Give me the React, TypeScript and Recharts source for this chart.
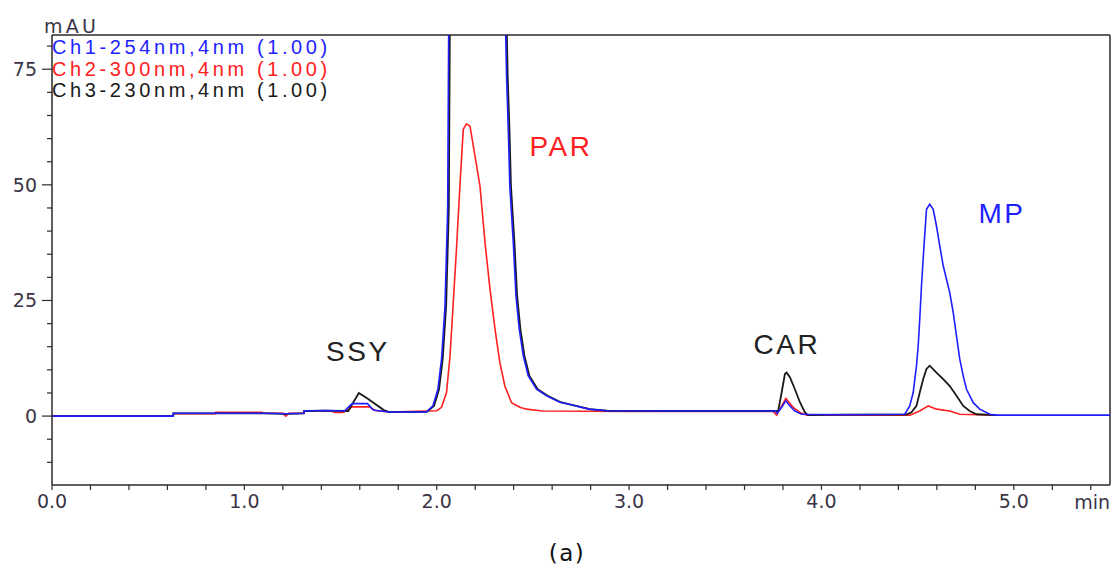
import React from 'react';
import { LineChart, Line, XAxis, YAxis, ReferenceLine, ReferenceDot, Legend } from 'recharts';

// ---- channel names / colours ----
const channelNames = ['Ch1-254nm,4nm (1.00)', 'Ch2-300nm,4nm (1.00)', 'Ch3-230nm,4nm (1.00)'];
const channelColors = ['#1f1fff', '#ff2020', '#1a1a1a'];

// ---- Ch1 254 nm (blue): [time min, mAU] ----
const ch1Points: [number, number][] = [
  [0, 0], [0.63, 0], [0.631, 0.6], [0.85, 0.6], [1.1, 0.6], [1.22, 0.5], [1.31, 0.6], [1.311, 1.1],
  [1.42, 1.2], [1.52, 1.1], [1.56, 2.7], [1.64, 2.7], [1.67, 1.3], [1.75, 0.9], [1.948, 0.9],
  [1.98, 2.2], [2.006, 5.8], [2.025, 12.3], [2.043, 23.8], [2.057, 45], [2.063, 90], [2.08, 130],
  [2.15, 200], [2.25, 180], [2.34, 120], [2.355, 90], [2.363, 73.5], [2.372, 62], [2.38, 49.7],
  [2.398, 37.5], [2.412, 26], [2.429, 18.8], [2.45, 13], [2.476, 8.7], [2.519, 5.8], [2.571, 4.4],
  [2.64, 3.0], [2.682, 2.6], [2.791, 1.5], [2.885, 1.15], [3.2, 1.1], [3.5, 1.1], [3.758, 1.1],
  [3.77, 0.6], [3.793, 1.9], [3.815, 3.3], [3.836, 2.2], [3.862, 1.1], [3.897, 0.4], [4.1, 0.3],
  [4.433, 0.4], [4.459, 2.2], [4.477, 5.1], [4.494, 10.9], [4.503, 15.2], [4.511, 21], [4.52, 28.2],
  [4.532, 36.1], [4.546, 44.7], [4.563, 45.8], [4.581, 44.7], [4.598, 41.1], [4.615, 36.8],
  [4.633, 32.5], [4.65, 29.6], [4.667, 26.7], [4.685, 22.4], [4.702, 17.3], [4.719, 12.3],
  [4.737, 8.7], [4.754, 5.8], [4.789, 2.9], [4.823, 1.5], [4.875, 0.4], [4.91, 0.2], [5.2, 0.2], [5.5, 0.2],
];

// ---- Ch2 300 nm (red) ----
const ch2Points: [number, number][] = [
  [0, 0], [0.63, 0], [0.631, 0.5], [0.85, 0.5], [0.851, 0.8], [1.09, 0.8], [1.1, 0.6], [1.2, 0.6],
  [1.215, 0], [1.23, 0.6], [1.31, 0.6], [1.311, 1.1], [1.45, 1.1], [1.47, 0.8], [1.51, 0.8], [1.53, 1.1],
  [1.56, 2.0], [1.65, 2.0], [1.68, 1.2], [1.75, 0.9], [2.0, 1.15], [2.025, 1.9], [2.051, 5.1],
  [2.069, 13], [2.086, 24.6], [2.103, 36.4], [2.121, 50.1], [2.138, 62], [2.155, 63.2], [2.173, 62.7],
  [2.199, 56.2], [2.225, 49.7], [2.251, 37.5], [2.277, 27.4], [2.303, 18.8], [2.328, 11.6],
  [2.354, 6.5], [2.389, 2.9], [2.432, 1.9], [2.467, 1.5], [2.55, 1.1], [3.0, 1.0], [3.749, 1.0],
  [3.767, 0.2], [3.815, 3.8], [3.853, 1.9], [3.888, 0.8], [3.923, 0.2], [4.2, 0.2], [4.459, 0.2],
  [4.511, 1.1], [4.555, 2.2], [4.598, 1.5], [4.667, 1.1], [4.719, 0.4], [4.91, 0.2],
];

// ---- Ch3 230 nm (black) ----
const ch3Points: [number, number][] = [
  [0, 0], [0.63, 0], [0.631, 0.6], [0.85, 0.6], [1.1, 0.6], [1.22, 0.5], [1.31, 0.6], [1.311, 1.1],
  [1.42, 1.2], [1.54, 1.1], [1.595, 5.0], [1.64, 3.8], [1.725, 1.3], [1.75, 0.9], [1.948, 0.9],
  [1.986, 2.2], [2.012, 5.8], [2.031, 12.3], [2.049, 23.8], [2.063, 45], [2.069, 90], [2.086, 130],
  [2.15, 200], [2.25, 180], [2.34, 120], [2.361, 90], [2.369, 73.5], [2.378, 62], [2.386, 49.7],
  [2.404, 37.5], [2.418, 26], [2.435, 18.8], [2.456, 13], [2.482, 8.7], [2.525, 5.8], [2.577, 4.4],
  [2.645, 3.0], [2.686, 2.6], [2.795, 1.5], [2.885, 1.15], [3.2, 1.1], [3.5, 1.1], [3.775, 1.1],
  [3.793, 5.1], [3.81, 9.1], [3.819, 9.4], [3.836, 8.4], [3.862, 5.8], [3.888, 3.0], [3.914, 0.8],
  [3.931, 0.2], [4.1, 0.3], [4.44, 0.3], [4.468, 0.8], [4.494, 2.2], [4.511, 5.1], [4.529, 8.0],
  [4.546, 10.2], [4.563, 10.9], [4.598, 9.4], [4.633, 8.0], [4.667, 6.5], [4.702, 4.4], [4.737, 2.2],
  [4.771, 1.1], [4.806, 0.4], [4.91, 0.2],
];

// ---- peak annotations ----
const peakNames = ['SSY', 'PAR', 'CAR', 'MP'];
const peakTimes = [1.59, 2.646, 3.82, 4.938];
const peakLabelHeights = [14.0, 58.5, 15.5, 44.0];
const peakColors = ['#222222', '#ff2020', '#222222', '#1f1fff'];

// ---- axes ----
const xDomain: [number, number] = [0, 5.5];
const yDomain: [number, number] = [-14.9, 82.4];
const xTicks = [0, 0.2, 0.4, 0.6, 0.8, 1, 1.2, 1.4, 1.6, 1.8, 2, 2.2, 2.4, 2.6, 2.8, 3, 3.2, 3.4, 3.6, 3.8, 4, 4.2, 4.4, 4.6, 4.8, 5, 5.2, 5.4];
const yTicks = [-10, -5, 0, 5, 10, 15, 20, 25, 30, 35, 40, 45, 50, 55, 60, 65, 70, 75, 80];
const yLabelTicks = [0, 25, 50, 75];
const xUnit = 'min';
const yUnit = 'mAU';
const caption = '(a)';

const toRows = (pts: [number, number][]) => pts.map(([t, v]) => ({ t, v }));
const ch1Data = toRows(ch1Points);
const ch2Data = toRows(ch2Points);
const ch3Data = toRows(ch3Points);

const AXIS = '#2a2a2a';
const TXT = '#3a3546';
const FONT = '"DejaVu Sans", Verdana, sans-serif';
const SANS = '"Liberation Sans", Arial, sans-serif';

const XTick = (props: any) => {
  const { x, y, payload } = props;
  const v = payload.value as number;
  if (Math.abs(v - Math.round(v)) > 1e-6) return <g />;
  return (
    <text x={x} y={y} dy="0.71em" textAnchor="middle" fill={TXT} fontSize={19} fontFamily={FONT}>
      {v.toFixed(1)}
    </text>
  );
};

const YTick = (props: any) => {
  const { x, y, payload } = props;
  const v = payload.value as number;
  const major = yLabelTicks.includes(v);
  return (
    <g>
      <line x1={x + (major ? 5 : 10)} x2={x + 15} y1={y} y2={y} stroke={AXIS} strokeWidth={1.2} />
      {major && (
        <text x={x} y={y} dy="0.36em" textAnchor="end" fill={TXT} fontSize={19} fontFamily={FONT}>
          {v}
        </text>
      )}
    </g>
  );
};

const LegendBox = () => (
  <div style={{ fontFamily: SANS, fontSize: 20, lineHeight: '21.5px', letterSpacing: 3.6, whiteSpace: 'nowrap' }}>
    {channelNames.map((n, i) => (
      <div key={n} style={{ color: channelColors[i] }}>{n}</div>
    ))}
  </div>
);

const PeakText = (name: string, color: string) => (p: any) => (
  <text
    x={p.cx}
    y={p.cy}
    dy="0.36em"
    textAnchor="middle"
    fill={color}
    fontSize={28}
    letterSpacing={2.5}
    fontFamily={SANS}
  >
    {name}
  </text>
);

export default function App() {
  return (
    <div style={{ position: 'absolute', left: 0, top: 0, width: 1112, height: 569, background: '#fff' }}>
      <LineChart width={1112} height={569} margin={{ top: 35, right: 2, bottom: 54, left: 0 }}>
        <XAxis
          dataKey="t"
          type="number"
          domain={xDomain}
          allowDataOverflow
          ticks={xTicks}
          interval={0}
          tickSize={5}
          tickMargin={5}
          tick={<XTick />}
          stroke={AXIS}
          axisLine={{ stroke: AXIS, strokeWidth: 1.5 }}
          tickLine={{ stroke: AXIS, strokeWidth: 1.2 }}
          height={30}
          label={(p: any) => {
            const vb = p.viewBox;
            return (
              <text x={vb.x + vb.width} y={vb.y + 24} textAnchor="end" fill={TXT} fontSize={19} fontFamily={FONT}>
                {xUnit}
              </text>
            );
          }}
        />
        <YAxis
          type="number"
          domain={yDomain}
          allowDataOverflow
          ticks={yTicks}
          interval={0}
          width={52}
          tickSize={10}
          tickMargin={5}
          tickLine={false}
          tick={<YTick />}
          axisLine={{ stroke: AXIS, strokeWidth: 1.5 }}
          label={(p: any) => {
            const vb = p.viewBox;
            return (
              <text x={vb.x + vb.width - 8} y={vb.y - 2} textAnchor="start" fill={TXT} fontSize={19} letterSpacing={3.2} fontFamily={FONT}>
                {yUnit}
              </text>
            );
          }}
        />
        <ReferenceLine y={yDomain[1]} stroke={AXIS} strokeWidth={1.5} />
        <ReferenceLine x={xDomain[1]} stroke={AXIS} strokeWidth={1.5} />
        <Legend
          layout="horizontal"
          verticalAlign="middle"
          align="center"
          content={<LegendBox />}
          wrapperStyle={{ left: 52, top: 37, width: 320, height: 66 }}
        />
        <Line data={ch2Data} dataKey="v" name={channelNames[1]} type="linear" stroke={channelColors[1]} strokeWidth={1.6} dot={false} isAnimationActive={false} />
        <Line data={ch3Data} dataKey="v" name={channelNames[2]} type="linear" stroke={channelColors[2]} strokeWidth={1.8} dot={false} isAnimationActive={false} />
        <Line data={ch1Data} dataKey="v" name={channelNames[0]} type="linear" stroke={channelColors[0]} strokeWidth={1.6} dot={false} isAnimationActive={false} />
        {peakNames.map((n, i) => (
          <ReferenceDot key={n} x={peakTimes[i]} y={peakLabelHeights[i]} r={0} shape={PeakText(n, peakColors[i])} />
        ))}
      </LineChart>
      <div style={{ position: 'absolute', left: 567, top: 540, transform: 'translateX(-50%)', fontFamily: FONT, fontSize: 23, letterSpacing: 1.5, color: '#111', whiteSpace: 'nowrap' }}>
        {caption}
      </div>
    </div>
  );
}
